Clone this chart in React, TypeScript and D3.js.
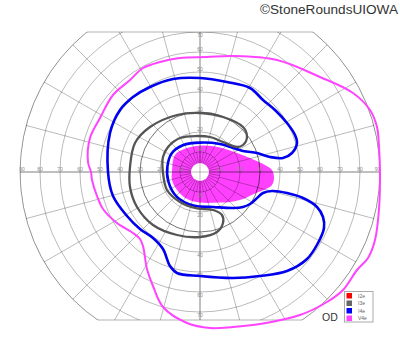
import React from 'react';
import * as d3 from 'd3';

type Pt = [number, number];

// Grid definition (degrees of visual field)
const rings = [10, 20, 30, 40, 50, 60, 70, 80, 90];
const emphasisRing = 30;
const meridians = d3.range(0, 360, 15);
const innerMeridians = d3.range(0, 360, 10);
const fieldTop = 70;
const fieldBottom = -74;
const horizLabels = [10, 20, 30, 40, 50, 60, 70, 80, 90];
const vertLabels = [10, 20, 30, 40, 50, 60, 70];

// Legend
const legendNames = ['I2e', 'I3e', 'I4e', 'V4e'];
const legendColors = ['#ff0000', '#666666', '#0000ff', '#ff44ff'];

// Isopters: [horizontal deg, vertical deg]
const isoV4e: Pt[] = [
  [-54.5, 0], [-56, 5], [-55, 17], [-50, 27], [-43.5, 38.5], [-35, 46], [-28.5, 52], [-20, 55],
  [-10, 57], [3.5, 57.5], [16.5, 58], [38.5, 56], [60, 47.5], [76.5, 39.5], [85, 31], [88.5, 22.5],
  [89.5, 12.5], [90, 0], [89.5, -18.5], [87.5, -34], [84, -43], [78.5, -49], [71.5, -59], [63.5, -65],
  [50, -71.5], [30, -76], [16.5, -77.5], [5, -78], [-6.5, -75.5], [-18.5, -67.5], [-23.5, -57],
  [-26.5, -48.5], [-28.5, -37], [-30, -33.5], [-33.5, -30.5], [-41.5, -25.5], [-48.5, -18.5],
  [-51.5, -12], [-54, -4],
];

const isoI4e: Pt[] = [
  [-46, 0], [-45, 19.5], [-40, 31], [-33.5, 37.5], [-25, 42.5], [-13.5, 46.5], [0, 47], [13.5, 45],
  [25, 42], [31.5, 36], [38, 30.5], [43.5, 24.5], [47.5, 18.5], [48.5, 14.5], [46, 9.5], [41.5, 7],
  [35, 7.5], [28.5, 9.5], [21.5, 10.5], [10, 14], [0, 14.7], [-8.3, 13.5], [-14.2, 9.3], [-16.3, 2.7],
  [-15.8, -4.8], [-11.7, -12.3], [-3.3, -16.8], [6.7, -17.5], [16.7, -18], [21.5, -17.5], [25, -16],
  [28, -13.5], [31.5, -10.5], [36, -9.5], [43.5, -10.5], [51.5, -13], [58.5, -17.5], [61.5, -22.5],
  [62, -28], [59, -35.5], [53.5, -43.5], [43.5, -49.5], [30, -52], [16.5, -53], [0, -52],
  [-11.5, -50.5], [-15, -47], [-18.5, -38.5], [-23.5, -33], [-30, -28.5], [-36.5, -22], [-43.5, -12],
];

const isoI3e: Pt[] = [
  [-35, 2.5], [-32.5, 14.5], [-25, 22.5], [-11.5, 28.5], [0, 29.5], [11.5, 27.5], [21.5, 22.5],
  [23.5, 17.5], [21.5, 13.5], [18.5, 12.5], [11.5, 15], [5, 17.5], [-1.5, 18], [-10, 17], [-16, 12.5],
  [-18.5, 7.5], [-18.5, -0.5], [-16.5, -9], [-10, -15], [-1.5, -18.2], [6.5, -19], [11, -21.5],
  [11.5, -25.5], [8.5, -30], [0, -32.5], [-11.5, -31.5], [-23.5, -26.5], [-31.5, -17.5], [-35, -7.5],
];

const fillV4e: Pt[] = [
  [-14, 0], [-12.5, 8.5], [-6.5, 12], [1.5, 13.3], [10, 12.3], [18.5, 9.5], [25, 7], [32.5, 3.5],
  [36, 1], [37, -3], [36, -6.5], [33, -8.5], [28, -10.5], [21.5, -13.5], [15, -15], [10, -15.3],
  [0, -15.3], [-6.5, -13.5], [-11.5, -9], [-14, -4],
];

export default function App() {
  const cx = 200;
  const cy = 172;
  const x = d3.scaleLinear().domain([-90, 90]).range([cx - 180, cx + 180]);
  const y = d3.scaleLinear().domain([-90, 90]).range([cy + 180, cy - 180]);
  const r = d3.scaleLinear().domain([0, 90]).range([0, 180]);
  const curve = d3
    .line<Pt>()
    .x((d) => x(d[0]))
    .y((d) => y(d[1]))
    .curve(d3.curveCatmullRomClosed.alpha(0.5));

  const rad = (a: number) => (a * Math.PI) / 180;
  const polar = (a: number, e: number): [number, number] => [x(e * Math.cos(rad(a))), y(e * Math.sin(rad(a)))];

  const topY = y(fieldTop);
  const botY = y(fieldBottom);
  const halfTop = Math.sqrt(r(90) ** 2 - (cy - topY) ** 2);
  const halfBot = Math.sqrt(r(90) ** 2 - (botY - cy) ** 2);

  const gridStroke = '#000';
  const gridOp = 0.3;
  const font = 'Arial, "Liberation Sans", Helvetica, sans-serif';

  return (
    <svg
      width={400}
      height={352}
      viewBox="0 0 400 352"
      style={{ position: 'absolute', left: 0, top: 0, background: '#fff' }}
    >
      <defs>
        <clipPath id="bandClip">
          <rect x={0} y={topY} width={400} height={botY - topY} />
        </clipPath>
        <clipPath id="circClip">
          <circle cx={x(0)} cy={y(0)} r={r(90)} />
        </clipPath>
      </defs>

      {/* filled V4e area */}
      <path d={curve(fillV4e) || ''} fill="#ff40ff" stroke="none" />
      <circle cx={x(0)} cy={y(0)} r={r(4.5)} fill="#fff" />

      {/* grid */}
      <g clipPath="url(#bandClip)">
        <g clipPath="url(#circClip)" fill="none" stroke={gridStroke} strokeOpacity={gridOp} strokeWidth={0.9}>
          {rings.map((v) => (
            <circle
              key={'r' + v}
              cx={x(0)}
              cy={y(0)}
              r={r(v)}
              strokeOpacity={v === emphasisRing ? 0.62 : gridOp}
            />
          ))}
          {meridians.map((a) => {
            const p0 = polar(a, 10);
            const p1 = polar(a, 95);
            return <line key={'m' + a} x1={p0[0]} y1={p0[1]} x2={p1[0]} y2={p1[1]} />;
          })}
          {innerMeridians.map((a) => {
            const p0 = polar(a, 4.5);
            const p1 = polar(a, 10);
            return <line key={'im' + a} x1={p0[0]} y1={p0[1]} x2={p1[0]} y2={p1[1]} />;
          })}
          <line x1={x(-90)} y1={y(0)} x2={x(90)} y2={y(0)} />
          <line x1={x(0)} y1={y(90)} x2={x(0)} y2={y(-90)} />
        </g>
        <circle cx={x(0)} cy={y(0)} r={r(90)} fill="none" stroke={gridStroke} strokeOpacity={gridOp} strokeWidth={1} />
      </g>
      <line x1={cx - halfTop} y1={topY} x2={cx + halfTop} y2={topY} stroke={gridStroke} strokeOpacity={gridOp} strokeWidth={1} />
      <line x1={cx - halfBot} y1={botY} x2={cx + halfBot} y2={botY} stroke={gridStroke} strokeOpacity={gridOp} strokeWidth={1} />

      {/* axis labels */}
      <g fontFamily={font} fontSize={5} fill="#8a8a8a" textAnchor="middle">
        {horizLabels.map((v) => (
          <React.Fragment key={'h' + v}>
            <text x={x(-v) + (v === 90 ? 2 : 0)} y={y(0) - 1}>{v}</text>
            <text x={x(v) - (v === 90 ? 2.5 : 0)} y={y(0) - 1}>{v}</text>
          </React.Fragment>
        ))}
        {vertLabels.map((v) => (
          <React.Fragment key={'v' + v}>
            <text x={x(0)} y={Math.max(y(v) - 1.5, topY + 4.5)}>{v}</text>
            <text x={x(0)} y={y(-v) + 4.5}>{v}</text>
          </React.Fragment>
        ))}
      </g>

      {/* isopters */}
      <path d={curve(isoV4e) || ''} fill="none" stroke="#ff44ff" strokeWidth={2} />
      <path d={curve(isoI4e) || ''} fill="none" stroke="#0000ee" strokeWidth={2.6} />
      <path d={curve(isoI3e) || ''} fill="none" stroke="#555555" strokeWidth={2.3} />

      {/* eye label */}
      <text x={322} y={321} fontFamily={font} fontSize={10.5} fill="#333">OD</text>

      {/* legend */}
      <rect x={344.5} y={291.5} width={28.5} height={30.5} fill="#fff" stroke="#aaa" strokeWidth={1} />
      {legendNames.map((n, i) => (
        <g key={n}>
          <rect x={346.5} y={293 + i * 7.5} width={5.5} height={5.5} fill={legendColors[i]} />
          <text x={358} y={297.8 + i * 7.5} fontFamily={font} fontSize={5} fill="#666">{n}</text>
        </g>
      ))}

      {/* credit */}
      <text x={398} y={14} textAnchor="end" fontFamily={font} fontSize={13.6} fill="#333">
        ©StoneRoundsUIOWA
      </text>
    </svg>
  );
}
